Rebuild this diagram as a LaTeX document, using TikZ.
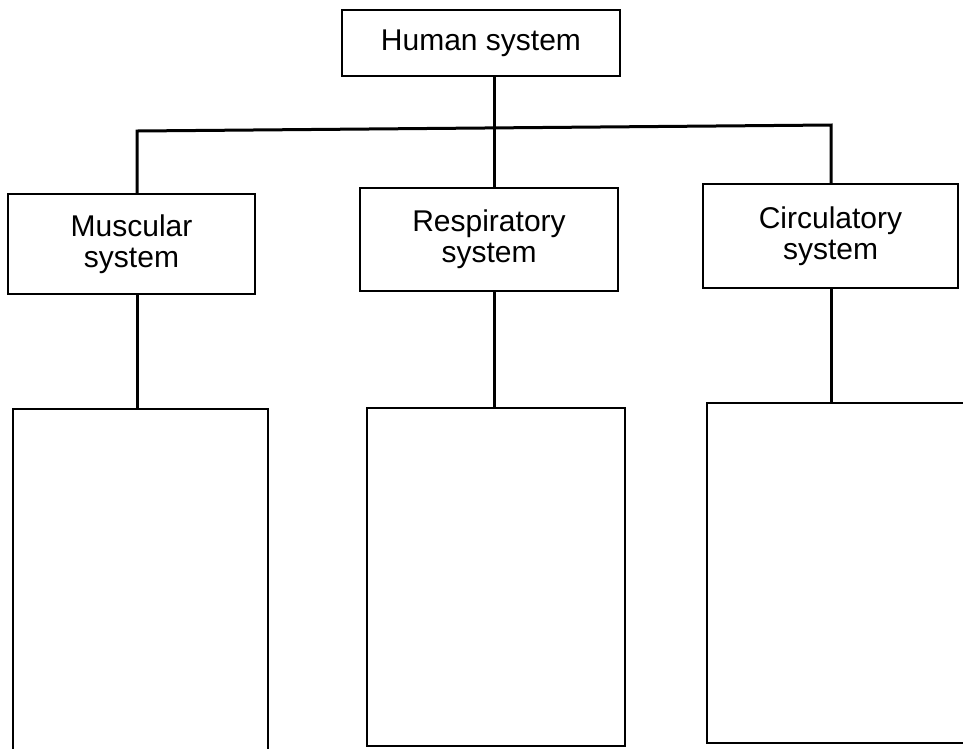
\documentclass[tikz,border=0pt]{standalone}
\usepackage{fontspec}
\setmainfont{Liberation Sans}
\usetikzlibrary{positioning}

\begin{document}
\begin{tikzpicture}[x=1pt,y=-1pt,
    box/.style={draw,rectangle,line width=2.8pt,inner sep=0pt,outer sep=0pt,
                align=center,font=\fontsize{30}{31}\selectfont},
    link/.style={line width=3pt}]
  \clip (0,0) rectangle (963,748);
  % top
  \node[box,minimum width=278pt,minimum height=66pt](hum) at (481,43){Human system};
  % systems
  \node[box,minimum width=247pt,minimum height=100pt](mus) at (131.5,244){Muscular\\system};
  \node[box,minimum width=258pt,minimum height=103pt](resp) at (489,239.5){Respiratory\\system};
  \node[box,minimum width=255pt,minimum height=104pt](circ) at (830.5,236){Circulatory\\system};
  % empty boxes
  \node[box,minimum width=255pt,minimum height=361pt](m2) at (140.5,589.5){};
  \node[box,minimum width=258pt,minimum height=338pt](r2) at (496,577){};
  \node[box,minimum width=273pt,minimum height=340pt](c2) at (843.5,573){};
  % branches
  \coordinate (j) at (494,128);
  \coordinate (jl) at (137,131);
  \coordinate (jr) at (831,125);
  \draw[link](j |- hum.south)--(j |- resp.north);
  \draw[link](jl |- mus.north)--(jl)--(jr)--(jr |- circ.north);
  \draw[link](mus.south -| jl)--(m2.north -| jl);
  \draw[link](resp.south -| j)--(r2.north -| j);
  \draw[link](circ.south -| jr)--(c2.north -| jr);
\end{tikzpicture}
\end{document}
